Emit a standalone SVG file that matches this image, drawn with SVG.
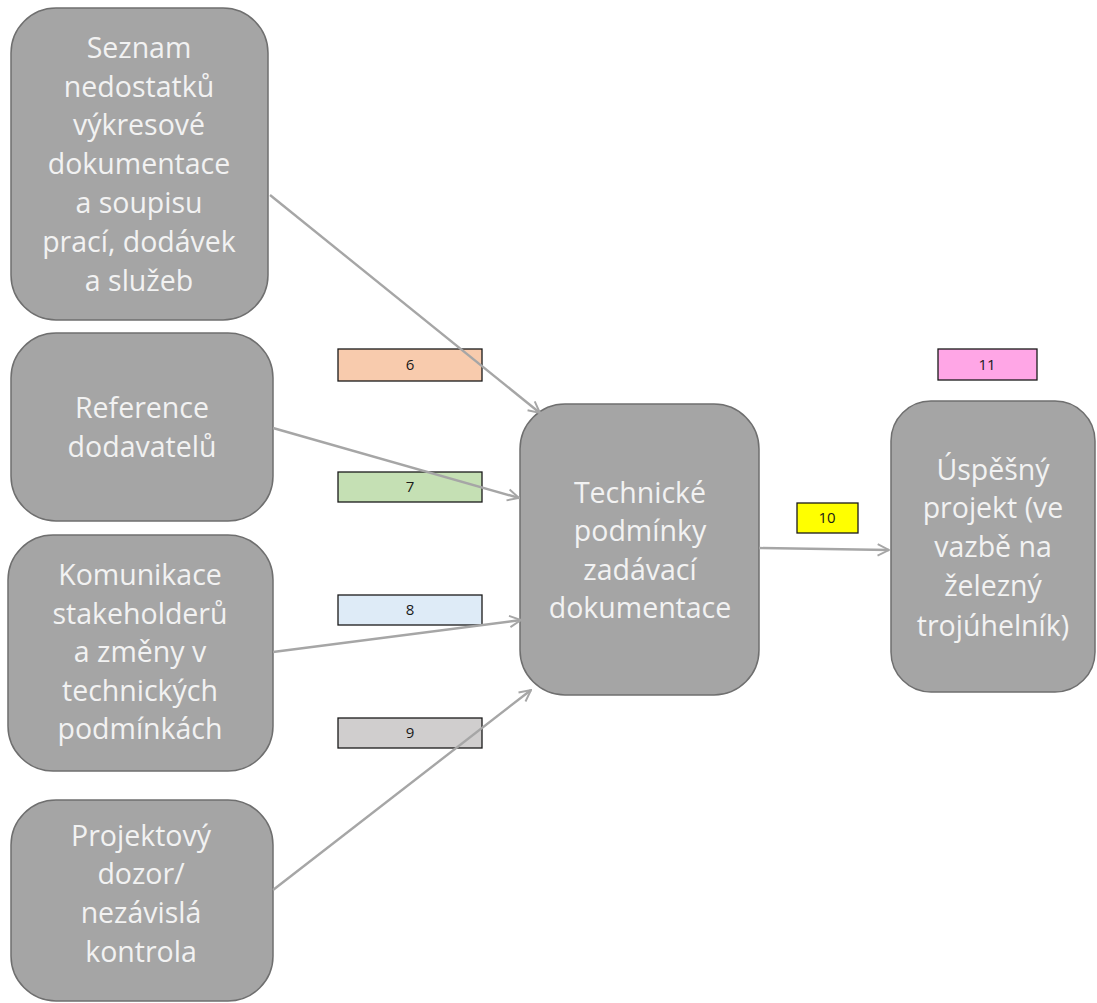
<svg xmlns="http://www.w3.org/2000/svg" width="1097" height="1003" viewBox="0 0 1097 1003">
<style>
.node{fill:#A5A5A5;stroke:#6F6F6F;stroke-width:1.5}
.nt{font-family:"Open Sans","Liberation Sans",sans-serif;font-size:28.5px;fill:#F2F2F2;text-anchor:middle}
.lab{stroke:#1a1a1a;stroke-width:1.3}
.lt{font-family:"Open Sans","Liberation Sans",sans-serif;font-size:15px;fill:#1a1a1a;text-anchor:middle}
.conn{stroke:#A6A6A6;stroke-width:2.4;fill:none;marker-end:url(#arr)}
</style>
<defs>
<marker id="arr" viewBox="0 0 16 16" refX="15" refY="8" markerWidth="14" markerHeight="14" markerUnits="userSpaceOnUse" orient="auto">
<path d="M2,1.5 L15,8 L2,14.5" fill="none" stroke="#A6A6A6" stroke-width="2.2"/>
</marker>
</defs>
<rect width="1097" height="1003" fill="#FFFFFF"/>
<g id="n1">
<rect class="node" x="11" y="8" width="257" height="312" rx="45"/>
<text class="nt" x="139" y="58">Seznam</text>
<text class="nt" x="139" y="97">nedostatků</text>
<text class="nt" x="139" y="135">výkresové</text>
<text class="nt" x="139" y="174">dokumentace</text>
<text class="nt" x="139" y="213">a soupisu</text>
<text class="nt" x="139" y="252">prací, dodávek</text>
<text class="nt" x="139" y="291">a služeb</text>
</g>
<g id="n2">
<rect class="node" x="11" y="333" width="262" height="188" rx="45"/>
<text class="nt" x="142" y="418">Reference</text>
<text class="nt" x="142" y="457">dodavatelů</text>
</g>
<g id="n3">
<rect class="node" x="8" y="535" width="265" height="236" rx="45"/>
<text class="nt" x="140" y="585">Komunikace</text>
<text class="nt" x="140" y="624">stakeholderů</text>
<text class="nt" x="140" y="662">a změny v</text>
<text class="nt" x="140" y="701">technických</text>
<text class="nt" x="140" y="739">podmínkách</text>
</g>
<g id="n4">
<rect class="node" x="11" y="800" width="262" height="201" rx="45"/>
<text class="nt" x="141" y="846">Projektový</text>
<text class="nt" x="141" y="884">dozor/</text>
<text class="nt" x="141" y="923">nezávislá</text>
<text class="nt" x="141" y="962">kontrola</text>
</g>
<g id="n5">
<rect class="node" x="520" y="404" width="239" height="291" rx="45"/>
<text class="nt" x="640" y="503">Technické</text>
<text class="nt" x="640" y="541">podmínky</text>
<text class="nt" x="640" y="580">zadávací</text>
<text class="nt" x="640" y="618">dokumentace</text>
</g>
<g id="n6">
<rect class="node" x="891" y="401" width="204" height="291" rx="40"/>
<text class="nt" x="993" y="480">Úspěšný</text>
<text class="nt" x="993" y="518">projekt (ve</text>
<text class="nt" x="993" y="557">vazbě na</text>
<text class="nt" x="993" y="596">železný</text>
<text class="nt" x="993" y="636">trojúhelník)</text>
</g>
<g id="l6">
<rect class="lab" x="338" y="349" width="144" height="32" fill="#F8CBAD"/>
<text class="lt" x="410" y="370">6</text>
</g>
<g id="l7">
<rect class="lab" x="338" y="472" width="144" height="30" fill="#C5E0B4"/>
<text class="lt" x="410" y="492">7</text>
</g>
<g id="l8">
<rect class="lab" x="338" y="595" width="144" height="30" fill="#DEEBF7"/>
<text class="lt" x="410" y="615">8</text>
</g>
<g id="l9">
<rect class="lab" x="338" y="718" width="144" height="30" fill="#D0CECE"/>
<text class="lt" x="410" y="738">9</text>
</g>
<g id="l10">
<rect class="lab" x="797" y="503" width="61" height="30" fill="#FFFF00"/>
<text class="lt" x="827" y="523">10</text>
</g>
<g id="l11">
<rect class="lab" x="938" y="349" width="99" height="31" fill="#FFA6E6"/>
<text class="lt" x="987" y="370">11</text>
</g>
<g id="connectors">
<line class="conn" x1="270" y1="195" x2="540" y2="413"/>
<line class="conn" x1="273" y1="428" x2="519" y2="498"/>
<line class="conn" x1="273" y1="652" x2="521" y2="620"/>
<line class="conn" x1="273" y1="890" x2="531" y2="690"/>
<line class="conn" x1="759" y1="548" x2="889" y2="550"/>
</g>
</svg>
